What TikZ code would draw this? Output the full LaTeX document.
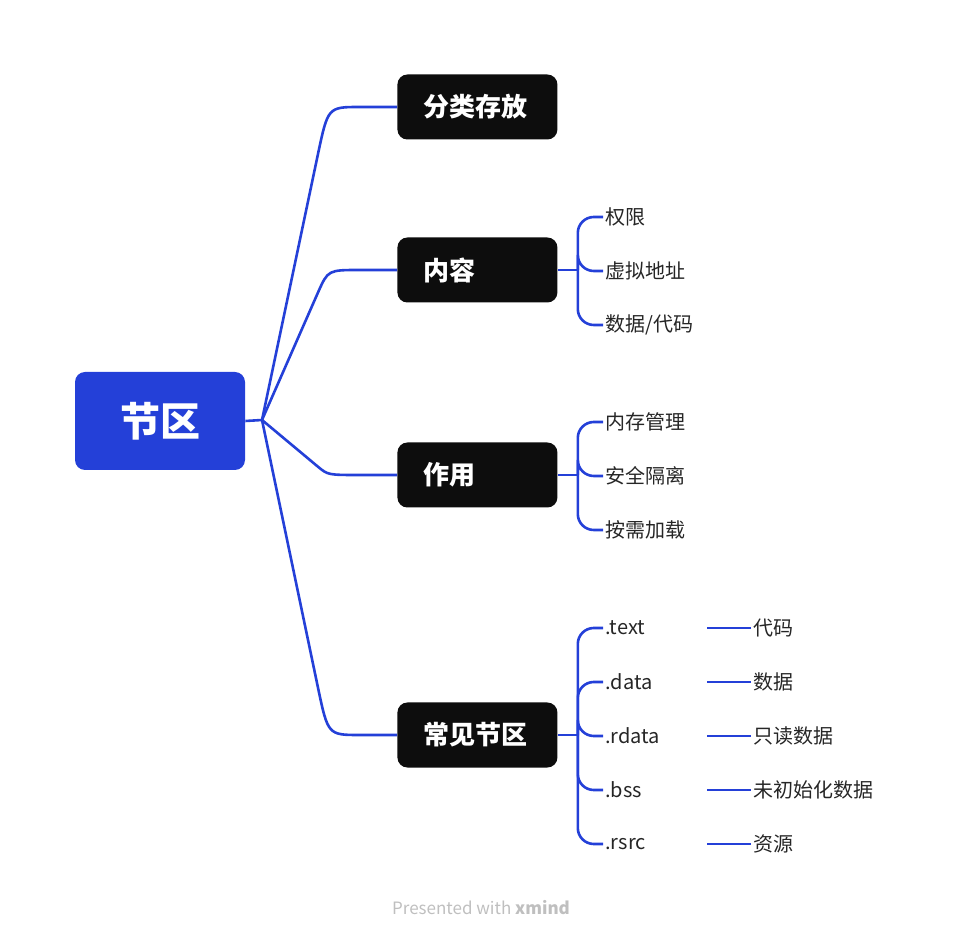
\documentclass[tikz,border=0pt]{standalone}
\usepackage{fontspec}
\setmainfont{Noto Sans CJK SC}
\usetikzlibrary{positioning}
\definecolor{xblue}{HTML}{2440D8}
\definecolor{xdark}{HTML}{0D0D0D}
\tikzset{
	rootbox/.style={rectangle, rounded corners=5pt, fill=xblue, text=white, minimum width=85pt, minimum height=49pt, font=\fontsize{20}{20}\selectfont\bfseries},
	topic/.style={rectangle, rounded corners=5pt, fill=xdark, text=white, minimum height=32.5pt, inner xsep=13pt, text width=54pt, align=left, font=\fontsize{13}{13}\selectfont\bfseries},
	leaf/.style={anchor=west, inner sep=1pt, font=\fontsize{10}{10}\selectfont, text=black!85},
	link/.style={draw=xblue, line width=1.3pt}
}
\begin{document}
\begin{tikzpicture}[x=0.5pt,y=-0.5pt]
			\useasboundingbox (0,0) rectangle (964,940);
			\node[rootbox] (root) at (160,421) {节区};
			\coordinate (r) at (262,420);
			\draw[link] (root.east) -- (r);

			% main topics
			\foreach \name/\txt/\yy in {fl/分类存放/107, nr/内容/270, zy/作用/475, cj/常见节区/735}{
				\node[topic, anchor=west] (\name) at (397,\yy) {\txt};
				\draw[link] (r) -- (318,{\yy+(420-\yy)*0.15}) .. controls (328,\yy) .. (360,\yy) -- (\name.west);
				\coordinate (\name j) at ([xshift=10pt]\name.east);
			}
			\foreach \name in {nr, zy, cj}
				\draw[link] (\name.east) -- (\name j);

			% leaves
			\foreach \tp/\name/\txt/\yy in {nr/a1/权限/217, nr/a2/虚拟地址/271, nr/a3/{数据/代码}/325,
				zy/b1/内存管理/422, zy/b2/安全隔离/476, zy/b3/按需加载/530,
				cj/c1/.text/628, cj/c2/.data/682, cj/c3/.rdata/736, cj/c4/.bss/790, cj/c5/.rsrc/844}{
				\node[leaf] (\name) at (603,\yy) {\txt};
				\draw[link, rounded corners=8pt] (\tp j) |- (\name.west);
			}

			% section contents
			\foreach \src/\name/\txt in {c1/d1/代码, c2/d2/数据, c3/d3/只读数据, c4/d4/未初始化数据, c5/d5/资源}{
				\node[leaf] (\name) at (751,0 |- \src) {\txt};
				\coordinate (\name s) at (707,0 |- \src);
				\draw[link] (\name s) -- (\name.west);
			}

			\node[font=\fontsize{8.5}{8.5}\selectfont, text=black!25] (foot) at (481,908) {Presented with \textbf{xmind}};
\end{tikzpicture}
\end{document}
